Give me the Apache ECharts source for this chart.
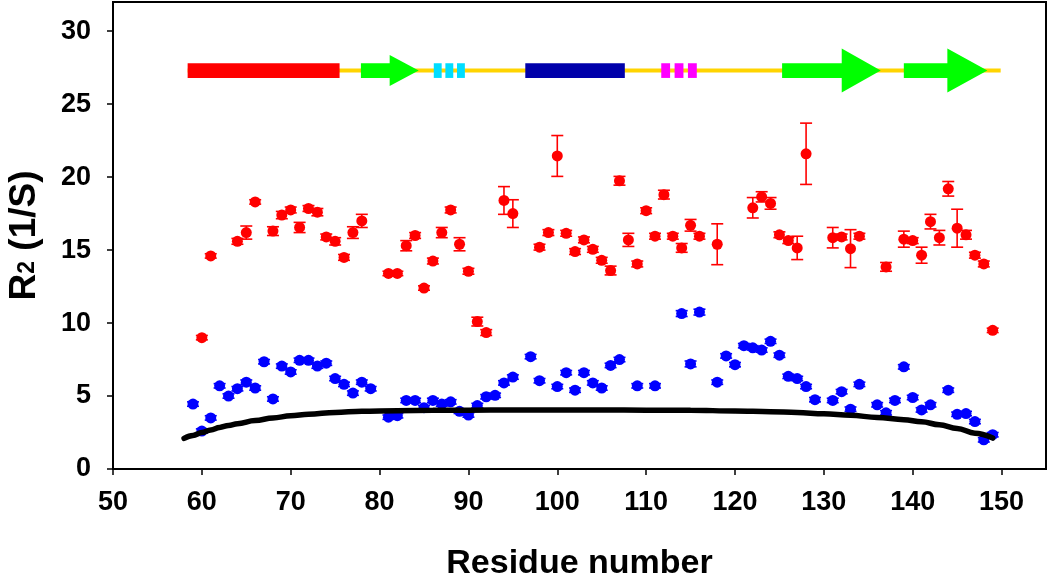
<!DOCTYPE html>
<html>
<head>
<meta charset="utf-8">
<script src="https://cdn.jsdelivr.net/npm/echarts@6/dist/echarts.min.js"></script>
<style>
  html, body { margin: 0; padding: 0; background: #fff; }
  #chart { width: 1050px; height: 576px; }
</style>
</head>
<body>
<div id="chart"></div>
<script>
// ---------------- DATA ----------------
const xTicks = [50, 60, 70, 80, 90, 100, 110, 120, 130, 140, 150];
const yTicks = [0, 5, 10, 15, 20, 25, 30];

const redRes = [60, 61, 64, 65, 66, 68, 69, 70, 71, 72, 73, 74, 75, 76, 77, 78, 81, 82, 83, 84, 85, 86, 87, 88, 89, 90, 91, 92, 94, 95, 98, 99, 100, 101, 102, 103, 104, 105, 106, 107, 108, 109, 110, 111, 112, 113, 114, 115, 116, 118, 122, 123, 124, 125, 126, 127, 128, 131, 132, 133, 134, 137, 139, 140, 141, 142, 143, 144, 145, 146, 147, 148, 149];
const redR2 = [9.0, 14.6, 15.6, 16.2, 18.3, 16.3, 17.4, 17.75, 16.55, 17.85, 17.6, 15.9, 15.6, 14.5, 16.2, 17.0, 13.4, 13.4, 15.3, 16.0, 12.4, 14.25, 16.2, 17.75, 15.4, 13.55, 10.1, 9.35, 18.4, 17.5, 15.2, 16.2, 21.45, 16.15, 14.9, 15.7, 15.05, 14.3, 13.6, 19.75, 15.7, 14.05, 17.7, 15.95, 18.8, 15.95, 15.15, 16.7, 15.95, 15.4, 17.9, 18.65, 18.2, 16.05, 15.65, 15.15, 21.6, 15.85, 15.9, 15.1, 15.95, 13.85, 15.75, 15.65, 14.65, 16.95, 15.85, 19.2, 16.5, 16.05, 14.65, 14.05, 9.5];
const redErr = [0.15, 0.15, 0.2, 0.45, 0.15, 0.3, 0.25, 0.2, 0.35, 0.2, 0.25, 0.2, 0.25, 0.2, 0.4, 0.45, 0.15, 0.15, 0.35, 0.2, 0.15, 0.2, 0.35, 0.2, 0.45, 0.2, 0.3, 0.2, 0.95, 0.95, 0.2, 0.2, 1.4, 0.2, 0.2, 0.2, 0.2, 0.2, 0.3, 0.3, 0.45, 0.2, 0.2, 0.2, 0.3, 0.2, 0.3, 0.4, 0.2, 1.4, 0.7, 0.35, 0.4, 0.2, 0.2, 0.8, 2.1, 0.7, 0.2, 1.3, 0.2, 0.3, 0.55, 0.2, 0.55, 0.5, 0.5, 0.5, 1.3, 0.3, 0.2, 0.2, 0.15];

const blueRes = [59, 60, 61, 62, 63, 64, 65, 66, 67, 68, 69, 70, 71, 72, 73, 74, 75, 76, 77, 78, 79, 81, 82, 83, 84, 85, 86, 87, 88, 89, 90, 91, 92, 93, 94, 95, 97, 98, 100, 101, 102, 103, 104, 105, 106, 107, 109, 111, 114, 115, 116, 118, 119, 120, 121, 122, 123, 124, 125, 126, 127, 128, 129, 131, 132, 133, 134, 136, 137, 138, 139, 140, 141, 142, 144, 145, 146, 147, 148, 149];
const blueR2 = [4.45, 2.6, 3.5, 5.7, 5.0, 5.5, 5.95, 5.55, 7.35, 4.8, 7.05, 6.65, 7.45, 7.45, 7.05, 7.25, 6.2, 5.8, 5.2, 5.95, 5.5, 3.55, 3.65, 4.7, 4.7, 4.2, 4.7, 4.45, 4.6, 3.95, 3.7, 4.35, 4.95, 5.05, 5.9, 6.3, 7.7, 6.05, 5.65, 6.6, 5.4, 6.6, 5.9, 5.55, 7.1, 7.5, 5.7, 5.7, 10.65, 7.2, 10.75, 5.95, 7.75, 7.15, 8.45, 8.3, 8.15, 8.75, 7.8, 6.35, 6.2, 5.65, 4.75, 4.7, 5.3, 4.1, 5.8, 4.4, 3.85, 4.7, 7.0, 4.9, 4.05, 4.4, 5.4, 3.75, 3.8, 3.25, 2.0, 2.35];
const blueErr = [0.15, 0.15, 0.15, 0.15, 0.15, 0.15, 0.15, 0.15, 0.15, 0.15, 0.15, 0.15, 0.15, 0.15, 0.15, 0.15, 0.15, 0.15, 0.15, 0.15, 0.15, 0.15, 0.15, 0.15, 0.15, 0.15, 0.15, 0.15, 0.15, 0.15, 0.15, 0.15, 0.15, 0.15, 0.15, 0.15, 0.15, 0.15, 0.15, 0.15, 0.15, 0.15, 0.15, 0.15, 0.15, 0.15, 0.15, 0.15, 0.2, 0.2, 0.2, 0.15, 0.15, 0.15, 0.15, 0.15, 0.15, 0.15, 0.15, 0.15, 0.15, 0.15, 0.15, 0.15, 0.15, 0.15, 0.15, 0.15, 0.15, 0.15, 0.15, 0.15, 0.15, 0.15, 0.15, 0.15, 0.15, 0.15, 0.15, 0.15];

const curveRes = [58, 59, 60, 61, 62, 63, 64, 66, 68, 70, 72, 75, 78, 82, 86, 90, 95, 100, 105, 110, 115, 120, 124, 127, 130, 133, 136, 139, 141, 143, 145, 147, 149];
const curveR2 = [2.1, 2.3, 2.5, 2.68, 2.85, 2.98, 3.1, 3.32, 3.5, 3.65, 3.75, 3.88, 3.95, 4.0, 4.02, 4.03, 4.04, 4.04, 4.04, 4.03, 4.02, 3.98, 3.93, 3.87, 3.78, 3.68, 3.53, 3.38, 3.24, 3.03, 2.78, 2.45, 2.12];

// secondary structure elements (residue ranges)
const ssType  = ['coil', 'helix', 'strand', 'blocks', 'helix', 'blocks', 'strand', 'strand'];
const ssStart = [58.4, 58.4, 77.9, 86.1, 96.4, 111.7, 125.3, 139.0];
const ssEnd   = [149.9, 75.5, 84.4, 89.6, 107.6, 115.7, 136.4, 148.4];

// ---------------- STYLE ----------------
const SS_LEVEL = 27.3;             // track level on the y axis
const SS_COLORS = ['#FFD400', '#FF0000', '#00FF00', '#00DDFF', '#0000AA', '#FF00FF', '#00FF00', '#00FF00'];
const SS_HEAD_H = [0, 0, 31, 0, 0, 0, 44, 44];
const SS_HEAD_L = [0, 0, 29, 0, 0, 0, 39, 40];
const SS_GAP = [0, 0, 0, 3.7, 0, 4.5, 0, 0];
const BAR_H = 14.7, COIL_H = 4;
const FONT = '"Liberation Sans", Arial, sans-serif';

function errRenderer(color) {
  return function (params, api) {
    const x = api.value(0), v = api.value(1), e = api.value(2);
    const t = api.coord([x, v + e]), b = api.coord([x, v - e]);
    const hw = 6;
    const st = { stroke: color, lineWidth: 1.6 };
    return {
      type: 'group',
      children: [
        { type: 'line', shape: { x1: t[0], y1: t[1], x2: b[0], y2: b[1] }, style: st },
        { type: 'line', shape: { x1: t[0] - hw, y1: t[1], x2: t[0] + hw, y2: t[1] }, style: st },
        { type: 'line', shape: { x1: b[0] - hw, y1: b[1], x2: b[0] + hw, y2: b[1] }, style: st }
      ]
    };
  };
}

function ssRenderer(params, api) {
  const i = api.value(2);
  const p0 = api.coord([api.value(0), SS_LEVEL]);
  const p1 = api.coord([api.value(1), SS_LEVEL]);
  const cy = p0[1], x0 = p0[0], x1 = p1[0];
  const color = SS_COLORS[i];
  const type = ssType[i];
  if (type === 'coil') {
    return { type: 'rect', shape: { x: x0, y: cy - COIL_H / 2, width: x1 - x0, height: COIL_H }, style: { fill: color } };
  }
  if (type === 'helix') {
    return { type: 'rect', shape: { x: x0, y: cy - BAR_H / 2, width: x1 - x0, height: BAR_H }, style: { fill: color } };
  }
  if (type === 'strand') {
    const hh = SS_HEAD_H[i] / 2, xh = x1 - SS_HEAD_L[i], bh = BAR_H / 2;
    return {
      type: 'polygon',
      shape: { points: [[x0, cy - bh], [xh, cy - bh], [xh, cy - hh], [x1, cy], [xh, cy + hh], [xh, cy + bh], [x0, cy + bh]] },
      style: { fill: color }
    };
  }
  // blocks (3 dashes)
  const gap = SS_GAP[i];
  const w = (x1 - x0 - 2 * gap) / 3;
  const children = [];
  for (let k = 0; k < 3; k++) {
    children.push({ type: 'rect', shape: { x: x0 + k * (w + gap), y: cy - BAR_H / 2, width: w, height: BAR_H }, style: { fill: color } });
  }
  return { type: 'group', children: children };
}

const chart = echarts.init(document.getElementById('chart'), null, { renderer: 'canvas' });

const option = {
  animation: false,
  backgroundColor: '#fff',
  grid: {
    left: 113, right: 4, top: 2, bottom: 107,
    containLabel: false, outerBoundsMode: 'none',
    show: true, borderColor: '#000', borderWidth: 2, backgroundColor: 'transparent'
  },
  xAxis: {
    type: 'value', min: 50, max: 155, interval: 10,
    name: 'Residue number', nameLocation: 'middle', nameGap: 78,
    nameTextStyle: { fontFamily: FONT, fontWeight: 'bold', fontSize: 34, color: '#000' },
    axisLine: { show: true, onZero: false, lineStyle: { color: '#000', width: 2 } },
    axisTick: { show: true, inside: false, length: 6, lineStyle: { color: '#000', width: 1.5 }, customValues: xTicks },
    axisLabel: { customValues: xTicks, margin: 20, fontFamily: FONT, fontWeight: 'bold', fontSize: 27, color: '#000' },
    splitLine: { show: false }
  },
  yAxis: {
    type: 'value', min: 0, max: 32, interval: 5,
    name: '{a|R}{b|2}{a| (1/S)}', nameLocation: 'middle', nameGap: 70, nameRotate: 90,
    nameTextStyle: {
      color: '#000',
      rich: {
        a: { fontFamily: FONT, fontWeight: 'bold', fontSize: 37, color: '#000' },
        b: { fontFamily: FONT, fontWeight: 'bold', fontSize: 23, color: '#000', verticalAlign: 'bottom', padding: [0, 0, 4, 0] }
      }
    },
    axisLine: { show: true, onZero: false, lineStyle: { color: '#000', width: 2 } },
    axisTick: { show: true, inside: false, length: 6, lineStyle: { color: '#000', width: 1.5 }, customValues: yTicks },
    axisLabel: { customValues: yTicks, margin: 22, fontFamily: FONT, fontWeight: 'bold', fontSize: 27, color: '#000' },
    splitLine: { show: false }
  },
  series: [
    {
      type: 'custom', name: 'ss', renderItem: ssRenderer, silent: true, z: 2,
      encode: { x: [0, 1], y: -1 },
      data: ssStart.map((s, i) => [s, ssEnd[i], i])
    },
    {
      type: 'custom', name: 'redErr', renderItem: errRenderer('#FF0000'), z: 3,
      encode: { x: 0, y: 1 },
      data: redRes.map((r, i) => [r, redR2[i], redErr[i]])
    },
    {
      type: 'custom', name: 'blueErr', renderItem: errRenderer('#0000FF'), z: 3,
      encode: { x: 0, y: 1 },
      data: blueRes.map((r, i) => [r, blueR2[i], blueErr[i]])
    },
    {
      type: 'scatter', name: 'red', symbol: 'circle', symbolSize: 11, z: 4,
      itemStyle: { color: '#FF0000', opacity: 1 },
      data: redRes.map((r, i) => [r, redR2[i]])
    },
    {
      type: 'scatter', name: 'blue', symbol: 'circle', symbolSize: 11, z: 4,
      itemStyle: { color: '#0000FF', opacity: 1 },
      data: blueRes.map((r, i) => [r, blueR2[i]])
    },
    {
      type: 'line', name: 'curve', showSymbol: false, smooth: 0.4, smoothMonotone: 'x', z: 5,
      lineStyle: { color: '#000', width: 5.5, cap: 'round' },
      data: curveRes.map((r, i) => [r, curveR2[i]])
    }
  ]
};
chart.setOption(option);
</script>
</body>
</html>
